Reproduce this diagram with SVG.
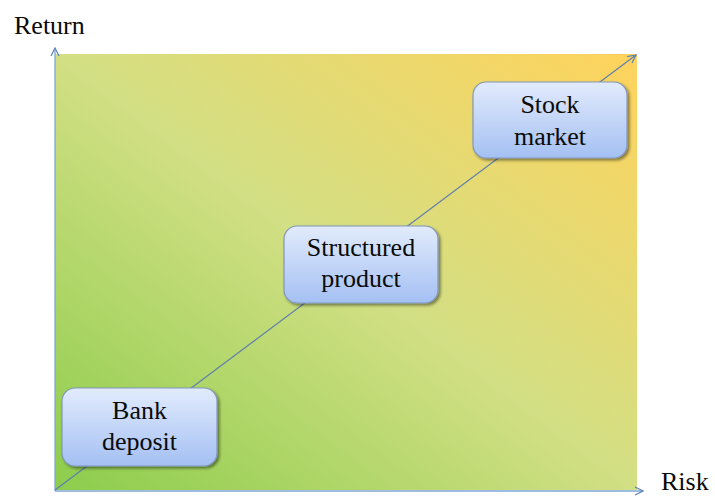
<svg xmlns="http://www.w3.org/2000/svg" width="715" height="497" viewBox="0 0 715 497">
  <defs>
    <linearGradient id="bg" x1="0" y1="1" x2="1" y2="0">
      <stop offset="0" stop-color="#8ccd4c"/>
      <stop offset="0.5" stop-color="#d2df84"/>
      <stop offset="1" stop-color="#ffd35c"/>
    </linearGradient>
    <linearGradient id="boxFill" x1="0" y1="0" x2="0" y2="1">
      <stop offset="0" stop-color="#e2ebfc"/>
      <stop offset="1" stop-color="#a4c0f3"/>
    </linearGradient>
    <filter id="shadow" x="-10%" y="-10%" width="125%" height="130%">
      <feGaussianBlur in="SourceAlpha" stdDeviation="1.8"/>
      <feOffset dx="1.5" dy="2" result="b"/>
      <feComponentTransfer><feFuncA type="linear" slope="0.45"/></feComponentTransfer>
      <feMerge><feMergeNode/><feMergeNode in="SourceGraphic"/></feMerge>
    </filter>
    <marker id="head" viewBox="0 0 10 10" refX="9" refY="5" markerWidth="10" markerHeight="10" markerUnits="userSpaceOnUse" orient="auto">
      <path d="M1,1 L9,5 L1,9" fill="none" stroke="#5c82b8" stroke-width="1.2"/>
    </marker>
  </defs>
  <style>
    .lbl { font-family: "Liberation Serif", "Times New Roman", serif; font-size: 26px; fill: #0a0a0a; }
    .box { fill: url(#boxFill); stroke: #8297bb; stroke-width: 1.2; filter: url(#shadow); }
    .axis { stroke: #7ea6d6; stroke-width: 1.3; fill: none; }
    .diag { stroke: #5f7fae; stroke-width: 1.2; fill: none; }
  </style>

  <!-- shaded plot area -->
  <rect x="55" y="54" width="582" height="436" fill="url(#bg)"/>

  <!-- axis captions -->
  <text class="lbl" x="14" y="34">Return</text>
  <text class="lbl" x="661" y="490">Risk</text>

  <g id="connectors">
    <line class="axis" x1="55" y1="491" x2="55" y2="48" marker-end="url(#head)"/>
    <line class="axis" x1="55" y1="491" x2="643" y2="491" marker-end="url(#head)"/>
    <line class="diag" x1="55" y1="490" x2="636" y2="55" marker-end="url(#head)"/>
  </g>

  <g id="bank-deposit">
    <rect class="box" x="62" y="388" width="155" height="78" rx="13"/>
    <text class="lbl" x="139.5" y="419" text-anchor="middle">Bank</text>
    <text class="lbl" x="139.5" y="450" text-anchor="middle">deposit</text>
  </g>

  <g id="structured-product">
    <rect class="box" x="284" y="226" width="154" height="77" rx="13"/>
    <text class="lbl" x="361" y="256" text-anchor="middle">Structured</text>
    <text class="lbl" x="361" y="287" text-anchor="middle">product</text>
  </g>

  <g id="stock-market">
    <rect class="box" x="473" y="82" width="154" height="76" rx="13"/>
    <text class="lbl" x="550" y="113" text-anchor="middle">Stock</text>
    <text class="lbl" x="550" y="145" text-anchor="middle">market</text>
  </g>
</svg>
